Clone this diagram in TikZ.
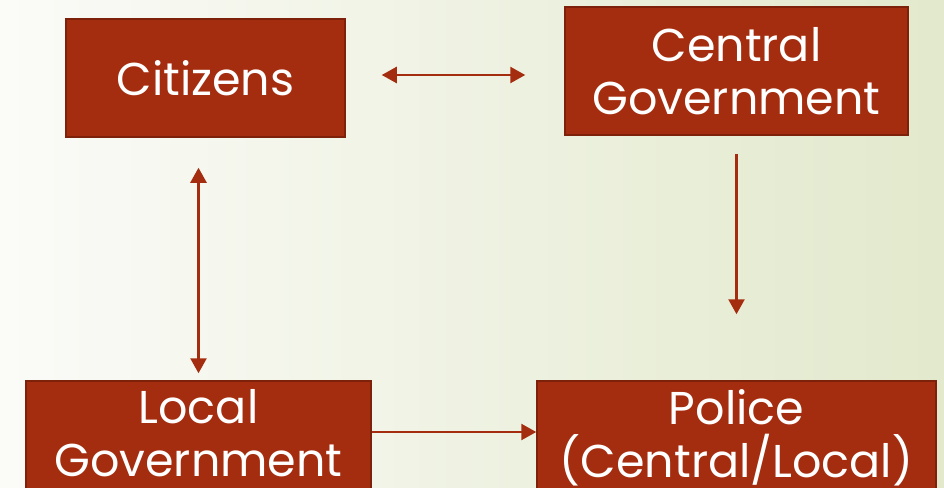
\documentclass[tikz,border=0pt]{standalone}
\usepackage{fontspec}
\setmainfont{Poppins}
\usetikzlibrary{arrows.meta,positioning,calc}
\definecolor{rust}{RGB}{165,45,15}
\definecolor{rustdark}{RGB}{125,33,10}
\definecolor{bgleft}{RGB}{251,251,248}
\definecolor{bgright}{RGB}{226,233,204}

\begin{document}
\begin{tikzpicture}[x=1pt, y=-1pt,
  box/.style={rectangle, draw=rustdark, line width=1.5pt, fill=rust,
              text=white, font=\fontsize{46}{53}\selectfont, align=center,
              inner sep=0pt},
  low/.style={box, minimum height=130pt, text depth=26pt},
  arr/.style={-{Triangle[length=15pt, width=16pt]}, draw=rust, line width=2.5pt},
  dbl/.style={{Triangle[length=15pt, width=16pt]}-{Triangle[length=15pt, width=16pt]},
              draw=rust, line width=2.5pt},
]
  \fill[left color=bgleft, right color=bgright] (0,0) rectangle (944,487);
  \clip (0,0) rectangle (944,487);

  \node[box, minimum width=279pt, minimum height=118pt] (cit) at (205.5,78) {Citizens};
  \node[box, minimum width=343pt, minimum height=128pt] (cen) at (736.5,71) {Central\\Government};
  \node[low, minimum width=345pt] (loc) at (198.5,446) {Local\\Government};
  \node[low, minimum width=399pt] (pol) at (736.5,446) {Police\\(Central/Local)};

  \draw[dbl, shorten <=36pt, shorten >=39pt] ([yshift=3pt]cit.east) -- ([yshift=3pt]cit.east -| cen.west);
  \draw[dbl, shorten <=30pt, shorten >=7pt] (loc.north |- cit.south) -- (loc.north);
  \draw[arr, shorten <=18pt, shorten >=66pt] (cen) -- (pol);
  \draw[arr] ([yshift=14pt]loc.east) -- ([yshift=14pt]loc.east -| pol.west);
\end{tikzpicture}
\end{document}
